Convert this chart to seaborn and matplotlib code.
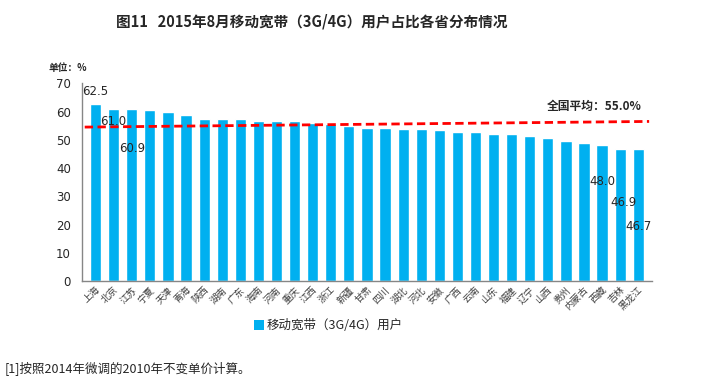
import numpy as np
import pandas as pd
import seaborn as sns
import matplotlib.pyplot as plt
from matplotlib.patches import Patch

sns.set_style('white')
plt.rcParams['font.family'] = ['Noto Sans CJK SC', 'DejaVu Sans']
plt.rcParams['axes.unicode_minus'] = False

# data
provinces = ['上海', '北京', '江苏', '宁夏', '天津', '青海', '陕西', '湖南', '广东', '海南',
             '河南', '重庆', '江西', '浙江', '新疆', '甘肃', '四川', '湖北', '河北', '安徽',
             '广西', '云南', '山东', '福建', '辽宁', '山西', '贵州', '内蒙古', '西藏', '吉林', '黑龙江']
share = [62.5, 61.0, 60.9, 60.4, 59.7, 58.9, 57.5, 57.5, 57.5, 56.8,
         56.8, 56.8, 56.1, 55.7, 55.0, 54.3, 54.1, 54.0, 53.7, 53.3,
         52.9, 52.6, 52.2, 52.2, 51.2, 50.8, 49.7, 49.0, 48.0, 46.9, 46.7]
national_avg = 55.0
avg_line_ends = [54.5, 56.5]   # the average line is slightly tilted in the original

# labelled bars and where their (misplaced) labels sit
label_idx = [0, 1, 2, 28, 29, 30]
label_y = [67.0, 56.6, 47.0, 35.4, 28.0, 19.5]

df = pd.DataFrame({'province': provinces, 'share': share})
blue = '#00B0F0'
grey = '#868686'

fig = plt.figure(figsize=(7.07, 3.82), dpi=100)
ax = fig.add_axes([0.116, 0.264, 0.806, 0.518])

sns.barplot(data=df, x='province', y='share', color=blue, width=0.62,
            saturation=1, ax=ax)

# average line
ax.plot([-0.6, len(provinces) - 0.4], avg_line_ends, color='#FF0000',
        lw=2, ls=(0, (3, 1.6)), zorder=3)

for i, yy in zip(label_idx, label_y):
    ax.text(i + (0.2 if i == 29 else 0), yy, f'{share[i]:.1f}', ha='center', va='center',
            fontsize=8.5, family=['DejaVu Sans'], zorder=4)

ax.set_xlim(-0.75, len(provinces) - 0.25)
ax.set_ylim(0, 70)
ax.set_yticks(range(0, 71, 10))
ax.set_xlabel('')
ax.set_ylabel('')

for s in ['top', 'right']:
    ax.spines[s].set_visible(False)
for s in ['left', 'bottom']:
    ax.spines[s].set_color(grey)
    ax.spines[s].set_linewidth(1)

ax.set_xticks(np.arange(-0.5, len(provinces), 1), minor=True)
ax.tick_params(axis='x', which='major', length=0, pad=3)
ax.tick_params(axis='x', which='minor', length=4, color=grey, direction='out')
ax.tick_params(axis='y', length=4, color=grey, direction='out', labelsize=8.5, pad=4)
for t in ax.get_yticklabels():
    t.set_family(['DejaVu Sans'])
ax.set_xticks(range(len(provinces)))
ax.set_xticklabels(provinces, rotation=45, ha='right', rotation_mode='anchor',
                   fontsize=6.8, color='#404040')

fig.text(0.441, 0.945, '图11   2015年8月移动宽带（3G/4G）用户占比各省分布情况',
         ha='center', va='center', fontsize=10.5, fontweight='bold')
fig.text(0.068, 0.823, '单位：%', ha='left', va='center', fontsize=7, fontweight='bold')
fig.text(0.774, 0.72, '全国平均：55.0%', ha='left', va='center', fontsize=8.5, fontweight='bold')

fig.legend(handles=[Patch(facecolor=blue, edgecolor='none')],
           labels=['移动宽带（3G/4G）用户'], loc='center', bbox_to_anchor=(0.465, 0.147),
           frameon=False, fontsize=9, handlelength=0.8, handleheight=0.8,
           handletextpad=0.2)

fig.text(0.007, 0.034, '[1]按照2014年微调的2010年不变单价计算。', ha='left', va='center',
         fontsize=9)

fig.savefig('out.png', dpi=100)
